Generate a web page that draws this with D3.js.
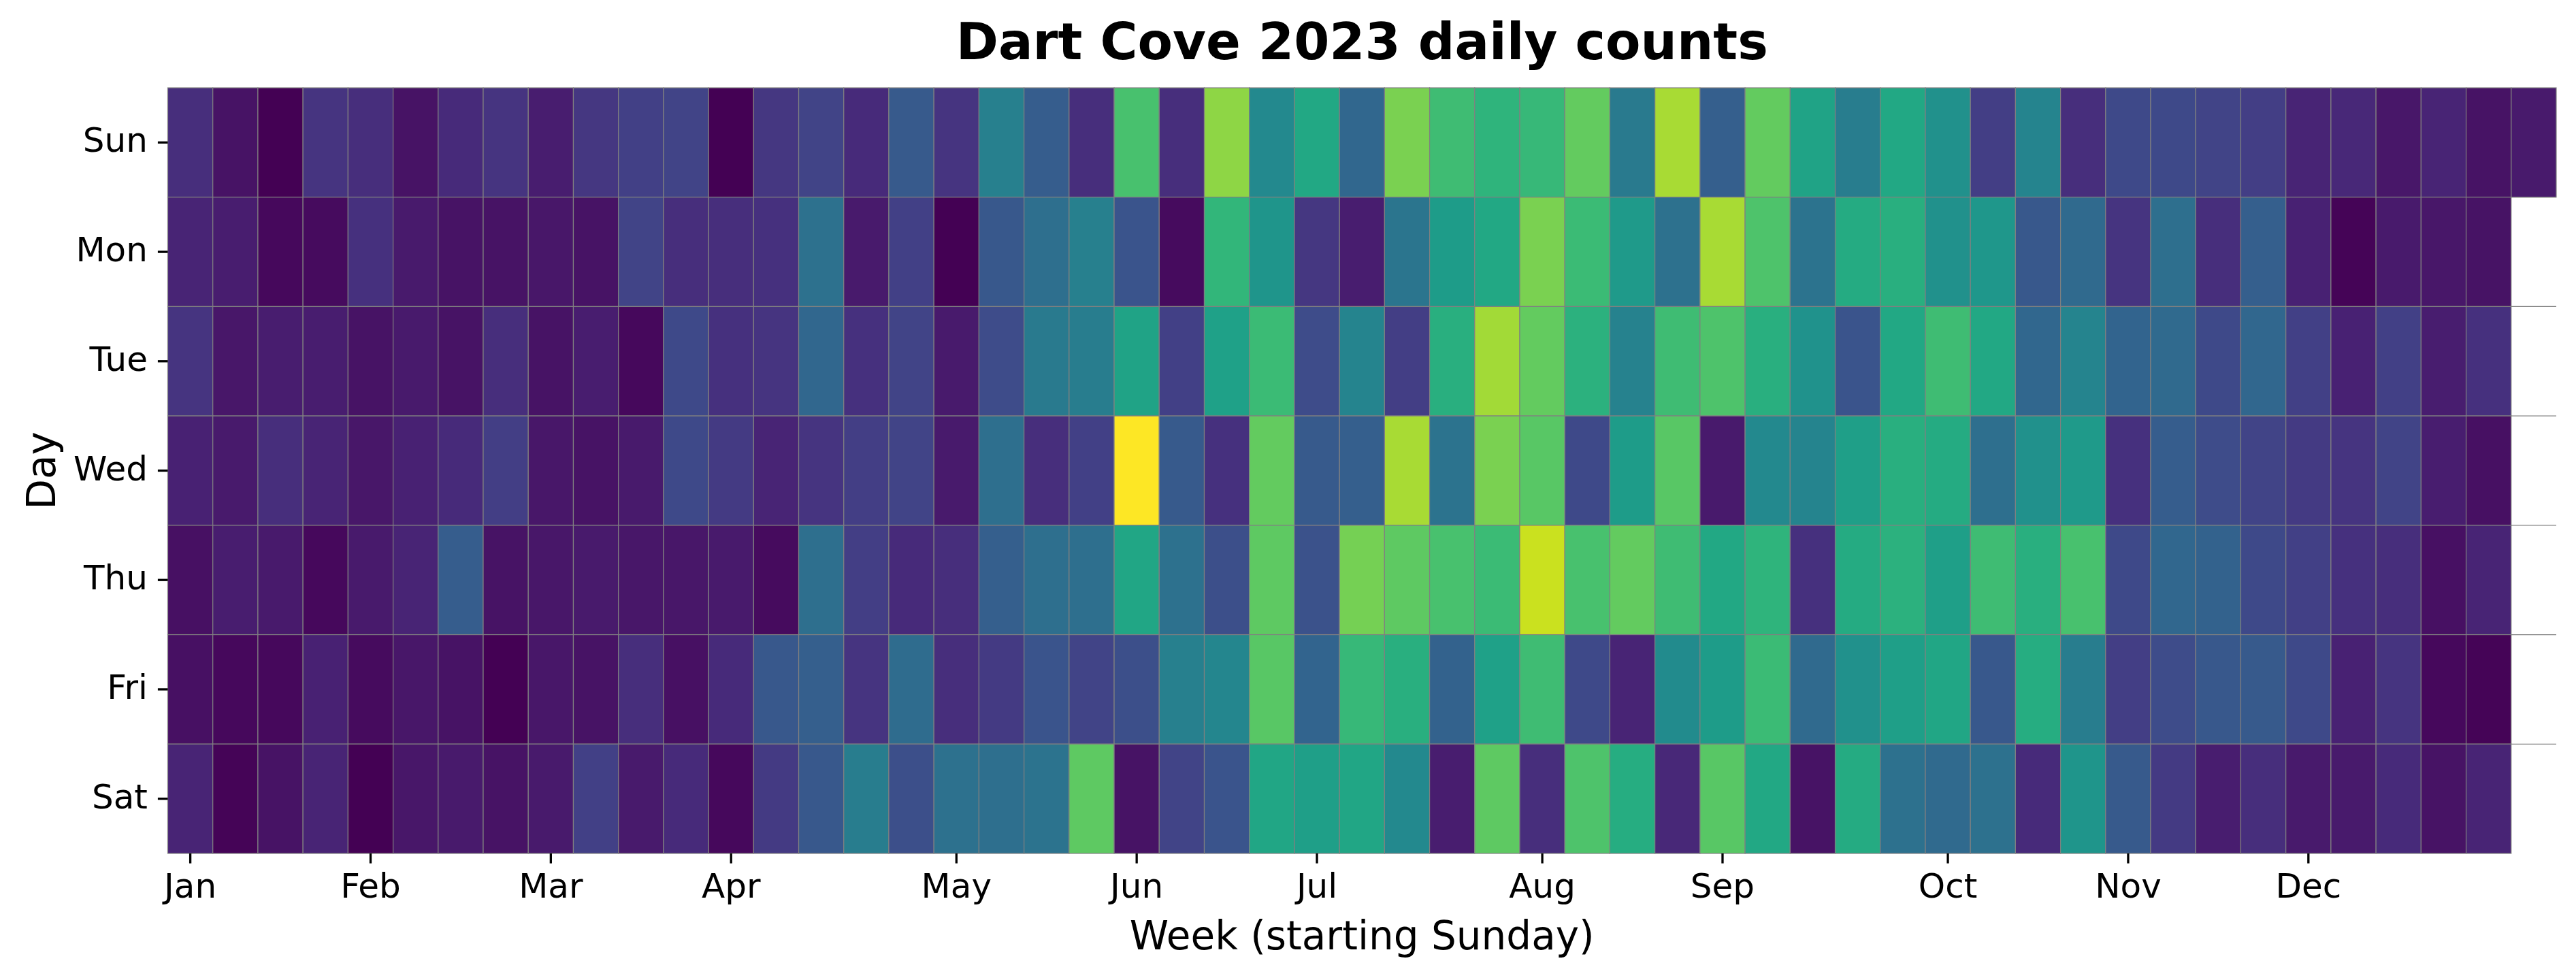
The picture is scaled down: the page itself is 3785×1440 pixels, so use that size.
<!DOCTYPE html>
<html>
<head>
<meta charset="utf-8">
<script src="https://cdn.jsdelivr.net/npm/d3@7"></script>
<style>
  body { margin: 0; background: #fff; }
  svg { display: block; }
  text { font-family: "DejaVu Sans", sans-serif; }
</style>
</head>
<body>
<div id="chart"></div>
<script>
// daily counts, one array per weekday, one entry per week (week starts Sunday)
var year = 2023;
var days = ["Sun", "Mon", "Tue", "Wed", "Thu", "Fri", "Sat"];
var months = ["Jan", "Feb", "Mar", "Apr", "May", "Jun", "Jul", "Aug", "Sep", "Oct", "Nov", "Dec"];

var sun = [13,5,0,15,13,5,12,15,8,16, 19,20,0,16,20,12,28,15,43,29, 13,71,13,83,47,60,33,80,69,65, 67,76,41,87,30,76,58,42,60,50, 18,45,13,22,22,20,18,10,11,6, 10,5,7];
var mon = [10,8,2,3,14,7,5,5,6,5, 20,13,13,14,37,7,19,0,27,36, 43,26,3,66,52,16,8,39,55,60, 80,68,54,37,87,72,38,61,63,50, 53,27,34,15,36,13,30,9,1,7, 6,5];
var tue = [15,6,8,8,5,7,5,13,5,8, 2,22,14,15,33,14,20,7,23,41, 42,58,19,57,68,23,45,18,63,86, 76,64,44,69,72,63,51,26,60,69, 60,33,45,32,34,22,33,19,9,19, 8,14];
var wed = [9,7,13,10,6,9,12,18,6,5, 7,22,17,10,15,18,20,7,36,13, 19,100,28,14,76,28,30,87,38,80, 74,22,55,74,7,47,45,56,63,61, 36,50,54,14,29,23,20,17,15,20, 8,4];
var thu = [4,8,7,2,7,10,29,5,6,7, 6,6,7,3,36,18,12,13,30,36, 36,59,37,24,75,25,79,75,71,68, 92,71,76,69,60,65,14,61,64,56, 69,63,71,22,33,31,22,19,14,13, 4,10];
var fri = [4,2,2,9,3,6,5,0,6,5, 13,4,12,27,30,15,35,13,17,26, 20,24,43,46,74,32,67,63,31,57, 69,22,10,48,55,68,34,50,56,59, 27,62,42,18,23,27,28,22,9,15, 2,1];
var sat = [10,1,5,10,0,6,7,5,7,19, 7,12,2,17,27,42,24,37,36,38, 75,5,20,26,59,56,59,47,8,75, 13,72,62,11,74,60,5,61,37,34, 37,12,52,28,17,8,13,7,7,12, 5,10];

var counts = [sun, mon, tue, wed, thu, fri, sat];

function drawHeatmap() {
   var W = 3785, H = 1440;
   var plotLeft = 246.5, plotRight = 3756, plotTop = 129, plotBottom = 1254;

   var nWeeks = d3.max(counts, function(r) { return r.length; });

   var cells = [];
   counts.forEach(function(row, di) {
       row.forEach(function(v, wi) {
           cells.push({day: days[di], week: wi, value: v});
       });
   });

   var x = d3.scaleBand()
   .domain(d3.range(nWeeks))
   .range([plotLeft, plotRight]);

   var y = d3.scaleBand()
   .domain(days)
   .range([plotTop, plotBottom]);

   var color = d3.scaleSequential(d3.interpolateViridis)
   .domain([d3.min(cells, function(d) { return d.value; }), d3.max(cells, function(d) { return d.value; })]);

   var svg = d3.select("#chart").append("svg")
   .attr("width", W)
   .attr("height", H)
   .attr("viewBox", "0 0 " + W + " " + H);

   svg.append("rect").attr("width", W).attr("height", H).attr("fill", "#fff");

   // heat cells
   svg.append("g").selectAll("rect")
   .data(cells)
   .enter().append("rect")
   .attr("x", function(d) { return x(d.week); })
   .attr("y", function(d) { return y(d.day); })
   .attr("width", x.bandwidth())
   .attr("height", y.bandwidth())
   .attr("fill", function(d) { return color(d.value); })
   .attr("stroke", "#808080")
   .attr("stroke-width", 1.2);

   // edges left by the empty cells at the end of the year
   var empty = [];
   counts.forEach(function(row, di) {
       for (var wi = row.length; wi < nWeeks; wi++) empty.push({day: days[di], week: wi});
   });
   svg.append("g").selectAll("line")
   .data(empty)
   .enter().append("line")
   .attr("x1", function(d) { return x(d.week); })
   .attr("x2", function(d) { return x(d.week) + x.bandwidth(); })
   .attr("y1", function(d) { return y(d.day); })
   .attr("y2", function(d) { return y(d.day); })
   .attr("stroke", "#808080")
   .attr("stroke-width", 1.2);

   // month ticks sit on the week holding the 1st of each month
   var monthWeeks = months.map(function(m, i) {
       var d = new Date(year, i, 1);
       return d3.timeWeek.count(d3.timeYear(d), d);
   });

   var xAxis = svg.append("g")
   .attr("transform", "translate(0," + plotBottom + ")")
   .call(d3.axisBottom(x)
       .tickValues(monthWeeks)
       .tickFormat(function(w) { return months[monthWeeks.indexOf(w)]; })
       .tickSize(14.6)
       .tickPadding(15));

   var yAxis = svg.append("g")
   .attr("transform", "translate(" + plotLeft + ",0)")
   .call(d3.axisLeft(y).tickSize(14.6).tickPadding(15));

   [xAxis, yAxis].forEach(function(ax) {
       ax.select(".domain").remove();
       ax.selectAll(".tick line").attr("stroke", "#000").attr("stroke-width", 3.3);
       ax.selectAll(".tick text")
       .attr("fill", "#000")
       .attr("font-size", "50px")
       .attr("font-family", "DejaVu Sans, sans-serif");
   });
   yAxis.selectAll(".tick text").attr("dy", "0.28em");

   // title and axis labels
   svg.append("text")
   .attr("x", (plotLeft + plotRight) / 2)
   .attr("y", 87)
   .attr("text-anchor", "middle")
   .attr("font-size", "75px")
   .attr("font-weight", "bold")
   .text("Dart Cove 2023 daily counts");

   svg.append("text")
   .attr("x", (plotLeft + plotRight) / 2)
   .attr("y", 1395)
   .attr("text-anchor", "middle")
   .attr("font-size", "58px")
   .text("Week (starting Sunday)");

   svg.append("text")
   .attr("transform", "translate(81," + (plotTop + plotBottom) / 2 + ") rotate(-90)")
   .attr("text-anchor", "middle")
   .attr("font-size", "58px")
   .text("Day");
}

drawHeatmap();
</script>
</body>
</html>
